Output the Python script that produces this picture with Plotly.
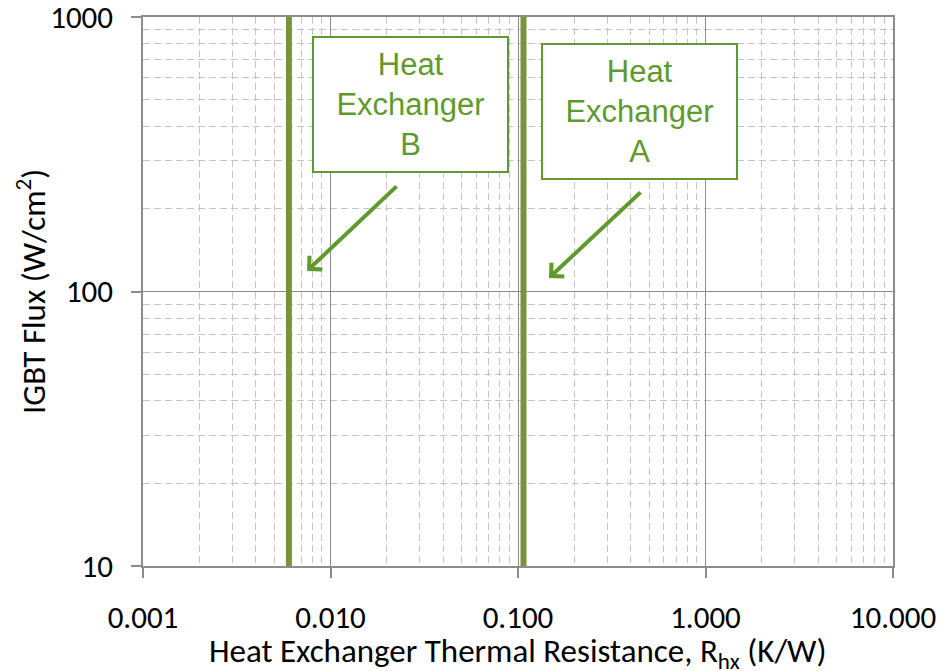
import plotly.graph_objects as go

# Data
hx_names = ["Heat<br>Exchanger<br>B", "Heat<br>Exchanger<br>A"]
hx_resistance = [0.006, 0.107]          # K/W
flux_range = [10, 1000]                 # W/cm2
x_tickvals = [0.001, 0.01, 0.1, 1, 10]
x_ticktext = ["0.001", "0.010", "0.100", "1.000", "10.000"]
y_tickvals = [10, 100, 1000]
y_ticktext = ["10", "100", "1000"]
x_title = "Heat Exchanger Thermal Resistance, R<sub>hx</sub> (K/W)"
y_title = "IGBT Flux (W/cm<sup>2</sup>)"

line_green = "#77933C"
text_green = "#5E9A2C"
major_grid = "#8C8C8C"
minor_grid = "#C4C4C4"
tick_font = "Carlito, Liberation Sans Narrow, Open Sans, sans-serif"

x_minor = [m * d for d in [0.001, 0.01, 0.1, 1] for m in range(2, 10)]
y_minor = [m * d for d in [10, 100] for m in range(2, 10)]

fig = go.Figure()
for r in hx_resistance:
    fig.add_trace(go.Scatter(x=[r, r], y=flux_range, mode="lines",
                             line=dict(color=line_green, width=6),
                             showlegend=False, hoverinfo="skip"))

axis_common = dict(
    type="log", showline=True, linecolor=major_grid, linewidth=1.5, mirror=True,
    showgrid=True, gridcolor=major_grid, gridwidth=1.3,
    ticks="outside", ticklen=10, tickcolor=major_grid, tickwidth=1.5,
    tickfont=dict(family=tick_font, size=31, color="#000000"),
    zeroline=False, automargin=False, ticklabeloverflow="allow",
)
minor_common = dict(showgrid=True, gridcolor=minor_grid, griddash="7px,4px",
                    gridwidth=1.3, ticks="")
fig.update_xaxes(**axis_common, range=[-3, 1], tickvals=x_tickvals, ticktext=x_ticktext,
                 ticklabelstandoff=13,
                 minor=dict(tickvals=x_minor, **minor_common))
fig.update_yaxes(**axis_common, range=[1, 3], tickvals=y_tickvals, ticktext=y_ticktext,
                 ticklabelstandoff=12,
                 minor=dict(tickvals=y_minor, **minor_common))

# Axis titles
fig.add_annotation(xref="paper", yref="paper", x=0.5, y=-0.158, text=x_title,
                   showarrow=False, xanchor="center", yanchor="middle",
                   font=dict(family=tick_font, size=33, color="#000000"))
fig.add_annotation(xref="paper", yref="paper", x=-0.1487, y=0.5, text=y_title,
                   showarrow=False, xanchor="center", yanchor="middle", textangle=-90,
                   font=dict(family=tick_font, size=33, color="#000000"))

# Text boxes
box_pos = [(0.3563, 0.8415), (0.662, 0.827)]
for name, (bx, by) in zip(hx_names, box_pos):
    fig.add_annotation(xref="paper", yref="paper", x=bx, y=by, text=name,
                       xanchor="center", yanchor="middle",
                       showarrow=False, font=dict(family="Liberation Sans, Arial", size=31, color=text_green),
                       bordercolor=text_green, borderwidth=2, borderpad=0, bgcolor="white",
                       width=193, height=133, align="center", valign="middle")

# Arrows
arrows = [((0.2187, 0.5374), 91, -86), ((0.5413, 0.5246), 93, -87)]
for (hx, hy), ax, ay in arrows:
    fig.add_annotation(xref="paper", yref="paper", x=hx, y=hy, text="",
                       showarrow=True, arrowhead=4, arrowsize=0.9, arrowwidth=4,
                       arrowcolor=text_green, ax=ax, ay=ay)

fig.update_layout(
    width=950, height=671,
    margin=dict(l=143, r=57, t=17, b=105),
    paper_bgcolor="white", plot_bgcolor="white",
    showlegend=False,
)

fig.write_html("out.html")
